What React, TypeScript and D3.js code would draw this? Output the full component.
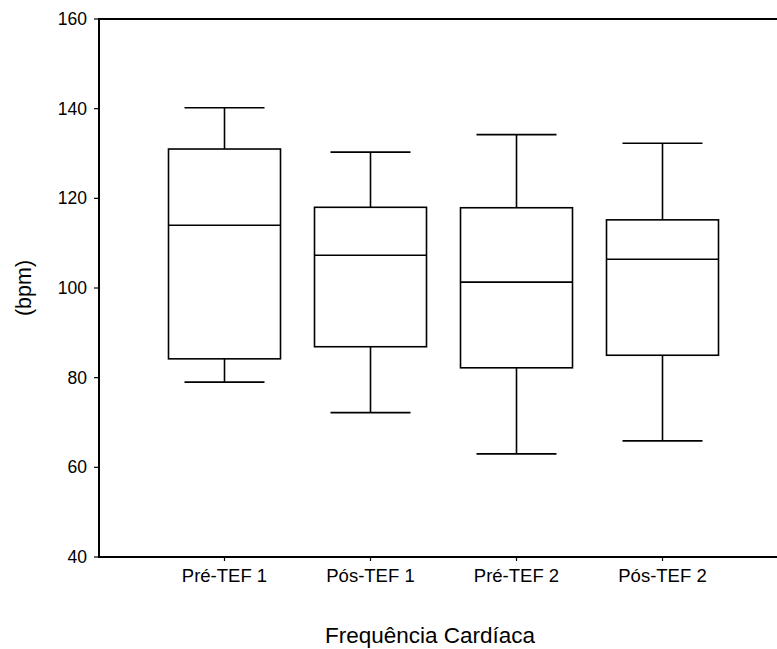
import React from "react";
import * as d3 from "d3";

const categories = ["Pré-TEF 1", "Pós-TEF 1", "Pré-TEF 2", "Pós-TEF 2"];
const whiskerLow = [79, 72.2, 63, 65.9];
const q1 = [84.2, 86.9, 82.2, 85];
const median = [114, 107.3, 101.3, 106.4];
const q3 = [131, 118, 117.9, 115.2];
const whiskerHigh = [140.2, 130.3, 134.2, 132.3];
const yTicks = [40, 60, 80, 100, 120, 140, 160];
const yLabel = "(bpm)";
const xTitle = "Frequência Cardíaca";

const W = 777;
const H = 649;
const left = 99;
const top = 19;
const bottom = 557;

export default function App() {
  const y = d3.scaleLinear().domain([40, 160]).range([bottom, top]);
  const x = d3.scalePoint<string>().domain(categories).range([224.5, 662.5]);
  const boxW = 112;
  const capW = 80;
  const font = "'Liberation Sans', Arial, sans-serif";

  return (
    <svg
      width={W}
      height={H}
      style={{ position: "absolute", left: 0, top: 0, display: "block", background: "#fff" }}
      fontFamily={font}
    >
      <line x1={left} x2={W} y1={top} y2={top} stroke="#000" strokeWidth={2} />
      <line x1={left} x2={W} y1={bottom} y2={bottom} stroke="#000" strokeWidth={2} />
      <line x1={left} x2={left} y1={top - 1} y2={bottom + 1} stroke="#000" strokeWidth={2} />
      {yTicks.map((t) => (
        <g key={t}>
          <line x1={left - 5} x2={left} y1={y(t)} y2={y(t)} stroke="#000" strokeWidth={1.2} />
          <text x={87} y={y(t)} dy="0.35em" textAnchor="end" fontSize={17.5}>
            {t}
          </text>
        </g>
      ))}
      {categories.map((c) => (
        <g key={c}>
          <line x1={x(c)!} x2={x(c)!} y1={bottom} y2={bottom + 4} stroke="#000" strokeWidth={1.2} />
          <text x={x(c)!} y={582} textAnchor="middle" fontSize={18.5}>
            {c}
          </text>
        </g>
      ))}
      {categories.map((c, i) => {
        const cx = x(c)!;
        return (
          <g key={"b" + c} stroke="#000" strokeWidth={1.6} fill="none">
            <line x1={cx} x2={cx} y1={y(whiskerHigh[i])} y2={y(q3[i])} />
            <line x1={cx} x2={cx} y1={y(q1[i])} y2={y(whiskerLow[i])} />
            <line x1={cx - capW / 2} x2={cx + capW / 2} y1={y(whiskerHigh[i])} y2={y(whiskerHigh[i])} />
            <line x1={cx - capW / 2} x2={cx + capW / 2} y1={y(whiskerLow[i])} y2={y(whiskerLow[i])} />
            <rect x={cx - boxW / 2} y={y(q3[i])} width={boxW} height={y(q1[i]) - y(q3[i])} />
            <line x1={cx - boxW / 2} x2={cx + boxW / 2} y1={y(median[i])} y2={y(median[i])} />
          </g>
        );
      })}
      <text
        transform={`translate(31,${y(100)}) rotate(-90)`}
        textAnchor="middle"
        fontSize={21.5}
      >
        {yLabel}
      </text>
      <text x={430} y={643} textAnchor="middle" fontSize={22.5}>
        {xTitle}
      </text>
    </svg>
  );
}
